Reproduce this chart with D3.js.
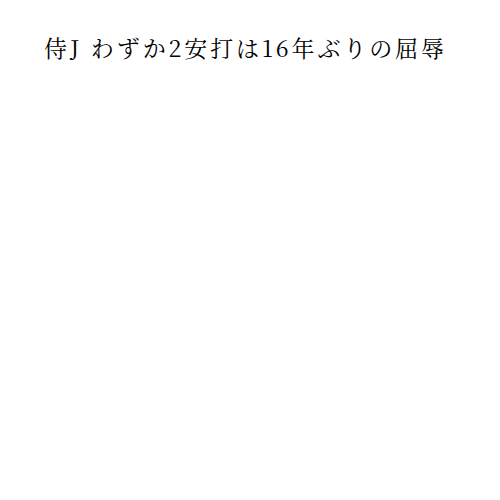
<!DOCTYPE html>
<html>
<head>
<meta charset="utf-8">
<script src="https://d3js.org/d3.v7.min.js"></script>
<style>
  body { margin: 0; background: #fff; }
</style>
</head>
<body>
<svg id="chart"></svg>
<script>
var title = "侍J わずか2安打は16年ぶりの屈辱";
var categories = [];
var values = [];

var width = 500, height = 500;

var svg = d3.select("#chart")
    .attr("width", width)
    .attr("height", height);

svg.append("rect")
    .attr("width", width)
    .attr("height", height)
    .attr("fill", "#fff");

// reference font has wide half-width latin glyphs, stretch spacing to match
svg.append("text")
    .attr("x", 244)
    .attr("y", 57)
    .attr("text-anchor", "middle")
    .attr("font-family", "'Noto Serif CJK JP', 'Noto Serif JP', 'Liberation Serif', serif")
    .attr("font-size", 23)
    .attr("textLength", 400)
    .attr("lengthAdjust", "spacing")
    .attr("fill", "#000")
    .text(title);
</script>
</body>
</html>
